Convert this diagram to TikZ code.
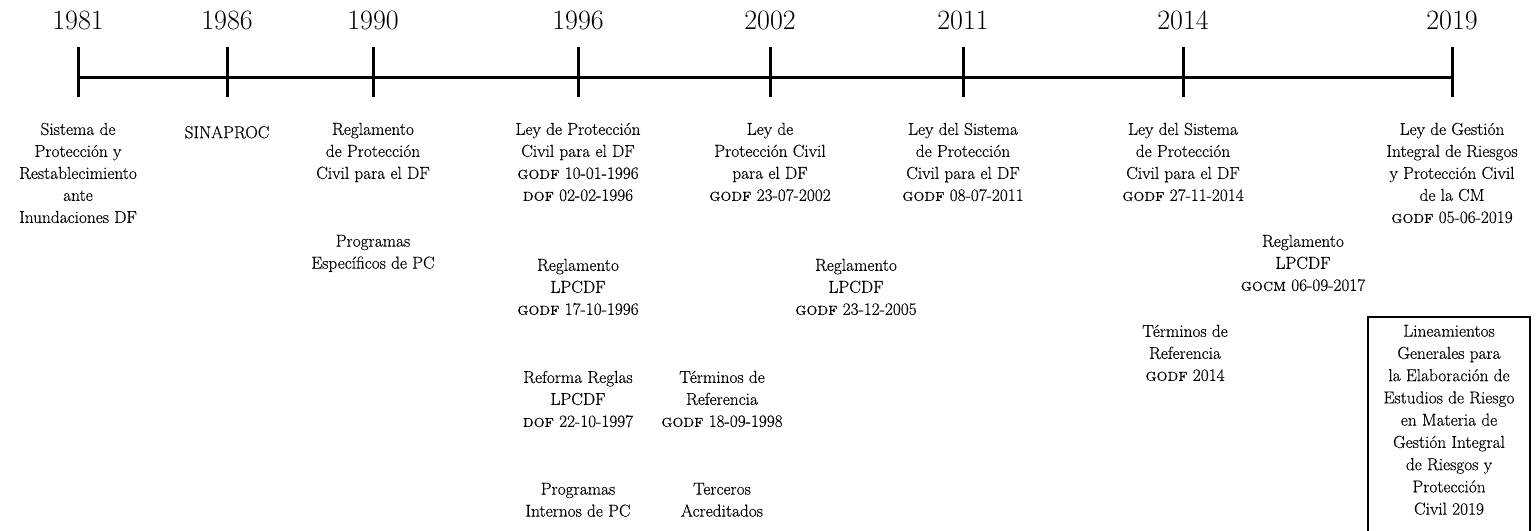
\documentclass[tikz,border=0pt]{standalone}
\usepackage{fontspec}
% slightly heavier text face for the event labels
\newfontfamily\bodyfont{Latin Modern Roman}[FakeBold=0.35,
  SmallCapsFont={Latin Modern Roman Caps}, SmallCapsFeatures={FakeBold=0.35}]
\begin{document}
\begin{tikzpicture}[x=1pt,y=-1pt,
  axisline/.style={line width=3pt},
  tickmark/.style={line width=3pt},
  yearlbl/.style={anchor=base,inner sep=0pt,font=\fontsize{28}{30}\selectfont},
  eventlbl/.style={anchor=north,yshift=15.4pt,align=center,inner sep=0pt,
    font=\bodyfont\fontsize{17.3}{22}\selectfont,execute at begin node=\strut},
  framebox/.style={line width=1.2pt}
]
\useasboundingbox (0,0) rectangle (1539,530);

% tick positions along the axis
\foreach \nm/\xx in {t81/78,t86/227,t90/373,t96/578,t02/770,t11/963,t14/1183,t19/1452}{
  \coordinate (\nm top) at (\xx,47);
  \coordinate (\nm) at (\xx,77);
  \coordinate (\nm bot) at (\xx,97);
}
\draw[axisline] (t81) -- (t19);
\foreach \nm in {t81,t86,t90,t96,t02,t11,t14,t19}{
  \draw[tickmark] (\nm top) -- (\nm bot);
}

% years
\node[yearlbl] (y81) at (78,29) {1981};
\node[yearlbl] (y86) at (227,29) {1986};
\node[yearlbl] (y90) at (373,29) {1990};
\node[yearlbl] (y96) at (578,29) {1996};
\node[yearlbl] (y02) at (770,29) {2002};
\node[yearlbl] (y11) at (963,29) {2011};
\node[yearlbl] (y14) at (1183,29) {2014};
\node[yearlbl] (y19) at (1452,29) {2019};

% first row of events
\node[eventlbl] (e81) at (78,138) {Sistema de\\Protección y\\Restablecimiento\\ante\\Inundaciones DF};
\node[eventlbl] (e86) at (227,138) {SINAPROC};
\node[eventlbl] (e90) at (373,138) {Reglamento\\de Protección\\Civil para el DF};
\node[eventlbl] (e96) at (578,138) {Ley de Protección\\Civil para el DF\\\textsc{godf} 10-01-1996\\\textsc{dof} 02-02-1996};
\node[eventlbl] (e02) at (770,138) {Ley de\\Protección Civil\\para el DF\\\textsc{godf} 23-07-2002};
\node[eventlbl] (e11) at (963,138) {Ley del Sistema\\de Protección\\Civil para el DF\\\textsc{godf} 08-07-2011};
\node[eventlbl] (e14) at (1183,138) {Ley del Sistema\\de Protección\\Civil para el DF\\\textsc{godf} 27-11-2014};
\node[eventlbl] (e19) at (1452,138) {Ley de Gestión\\Integral de Riesgos\\y Protección Civil\\de la CM\\\textsc{godf} 05-06-2019};

% second row
\node[eventlbl] (p90) at (373,250) {Programas\\Específicos de PC};
\node[eventlbl] (r96) at (578,274) {Reglamento\\LPCDF\\\textsc{godf} 17-10-1996};
\node[eventlbl] (r05) at (856,274) {Reglamento\\LPCDF\\\textsc{godf} 23-12-2005};
\node[eventlbl] (r17) at (1303,250) {Reglamento\\LPCDF\\\textsc{gocm} 06-09-2017};

% third row
\node[eventlbl] (tr14) at (1185,340) {Términos de\\Referencia\\\textsc{godf} 2014};
\node[eventlbl] (rf97) at (578,386) {Reforma Reglas\\LPCDF\\\textsc{dof} 22-10-1997};
\node[eventlbl] (tr98) at (722,386) {Términos de\\Referencia\\\textsc{godf} 18-09-1998};

% fourth row
\node[eventlbl] (pi96) at (578,498) {Programas\\Internos de PC};
\node[eventlbl] (ta98) at (722,498) {Terceros\\Acreditados};

% framed guidelines
\coordinate (boxtl) at (1368,317);
\coordinate (boxbr) at (1530,545);
\draw[framebox] (boxtl) rectangle (boxbr);
\node[eventlbl,font=\bodyfont\fontsize{17.3}{22.25}\selectfont] (lin19) at (1449,340) {Lineamientos\\Generales para\\la Elaboración de\\Estudios de Riesgo\\en Materia de\\Gestión Integral\\de Riesgos y\\Protección\\Civil 2019};
\end{tikzpicture}
\end{document}
